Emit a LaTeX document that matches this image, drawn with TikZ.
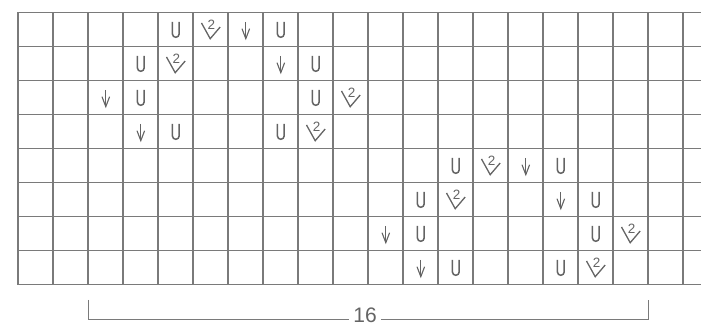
\documentclass[tikz,border=0pt]{standalone}
\usepackage{fontspec}
\setmainfont{Liberation Sans}
\definecolor{gridgray}{HTML}{7A7A7A}
\definecolor{symgray}{HTML}{646464}

\tikzset{
  gridline/.style={draw=gridgray, line width=1.8pt, line cap=rect},
  symline/.style={draw=symgray, line width=1.5pt},
  ustitch/.pic={
    \draw[symline] (-3.4,7.6) -- (-3.4,-4.4) arc[start angle=180, end angle=360, radius=3.4] -- (3.4,7.6);
  },
  slipst/.pic={
    \draw[symline, line width=1.1pt] (0,7.5) -- (0,-8.8);
    \draw[symline, line width=1.1pt] (-3.8,0.8) -- (0,-9.2) -- (3.8,0.8);
  },
  vtwo/.pic={
    \draw[symline, line width=1.3pt] (-9.3,6.5) -- (-0.6,-9.2) -- (9.4,2.5);
    \node[text=symgray, font=\fontsize{13.5}{13.5}\selectfont, inner sep=0pt] at (0.7,4.9) {2};
  }
}

\begin{document}
\begin{tikzpicture}[x=1pt, y=1pt]
\useasboundingbox (0,0) rectangle (701,326);

% grid
\foreach \k in {0,...,19}
  \draw[gridline] (18.3+35*\k,313.5) -- (18.3+35*\k,41.5);
\foreach \j in {0,...,8}
  \draw[gridline] (18.3,313.5-34*\j) -- (705,313.5-34*\j);

% stitches, second block is the first one shifted by 8 columns and 4 rows
\foreach \o in {0,1}{
  \foreach \c/\r in {4/0,7/0,3/1,8/1,3/2,8/2,4/3,7/3}{
    \pgfmathsetmacro\px{35.8+35*(\c+8*\o)}
    \pgfmathsetmacro\py{296.5-34*(\r+4*\o)}
    \pic (u\o\c\r) at (\px,\py) {ustitch};
  }
  \foreach \c/\r in {5/0,4/1,9/2,8/3}{
    \pgfmathsetmacro\px{35.8+35*(\c+8*\o)}
    \pgfmathsetmacro\py{296.5-34*(\r+4*\o)}
    \pic (v\o\c\r) at (\px,\py) {vtwo};
  }
  \foreach \c/\r in {6/0,7/1,2/2,3/3}{
    \pgfmathsetmacro\px{35.8+35*(\c+8*\o)}
    \pgfmathsetmacro\py{296.5-34*(\r+4*\o)}
    \pic (s\o\c\r) at (\px,\py) {slipst};
  }
}

% repeat bracket
\coordinate (bl) at (88.7,26);
\coordinate (bl-low) at (88.7,6.5);
\coordinate (br) at (648.3,26);
\coordinate (br-low) at (648.3,6.5);
\node[text=symgray, font=\fontsize{21}{21}\selectfont, inner sep=0pt, inner xsep=4pt] (sixteen) at (365,10.5) {16};
\draw[draw=gridgray, line width=1.4pt] (bl) -- (bl-low) -- (sixteen.west |- bl-low);
\draw[draw=gridgray, line width=1.4pt] (sixteen.east |- br-low) -- (br-low) -- (br);
\end{tikzpicture}
\end{document}
